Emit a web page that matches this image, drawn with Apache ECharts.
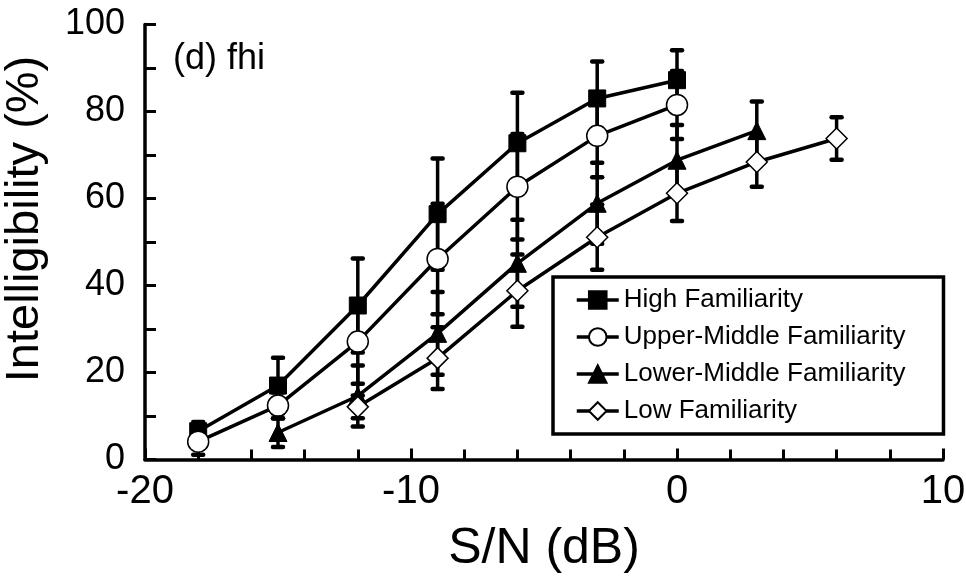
<!DOCTYPE html>
<html>
<head>
<meta charset="utf-8">
<script src="https://cdn.jsdelivr.net/npm/echarts@6/dist/echarts.min.js"></script>
<style>
  html, body { margin: 0; padding: 0; background: #fff; }
  #chart { width: 966px; height: 576px; }
</style>
</head>
<body>
<div id="chart"></div>
<script>
// ---- data ----
const snr = [-18, -15, -12, -9, -6, -3, 0, 3, 6];
const seriesNames = ['High Familiarity', 'Upper-Middle Familiarity', 'Lower-Middle Familiarity', 'Low Familiarity'];

const highX = [-18, -15, -12, -9, -6, -3, 0];
const highMean = [6.5, 17.0, 35.4, 56.4, 72.7, 83.0, 87.2];
const highSD = [2.1, 6.4, 10.8, 12.8, 11.6, 8.5, 6.9];

const upperMidX = [-18, -15, -12, -9, -6, -3, 0];
const upperMidMean = [4.1, 12.4, 27.1, 46.1, 62.7, 74.4, 81.5];
const upperMidSD = [3.0, 3.0, 9.7, 12.7, 12.1, 9.5, 7.8];

const lowerMidX = [-15, -12, -9, -6, -3, 0, 3];
const lowerMidMean = [6.2, 14.6, 29.0, 45.1, 58.9, 68.8, 75.6];
const lowerMidSD = [3.3, 7.0, 9.5, 10.0, 9.3, 8.1, 6.7];

const lowX = [-12, -9, -6, -3, 0, 3, 6];
const lowMean = [12.1, 23.3, 38.8, 51.1, 61.2, 68.4, 73.8];
const lowSD = [2.6, 7.1, 8.3, 7.5, 6.4, 5.7, 4.9];

const xTicks = [-20, -10, 0, 10];
const yTicks = [0, 20, 40, 60, 80, 100];
const panelLabel = '(d) fhi';
const xTitle = 'S/N (dB)';
const yTitle = 'Intelligibility (%)';

// ---- chart ----
const FONT = '"Liberation Sans", Arial, Helvetica, sans-serif';
const chart = echarts.init(document.getElementById('chart'), null, { renderer: 'canvas' });

function pairs(xs, ys) { return xs.map((x, i) => [x, ys[i]]); }
function triples(xs, ys, ss) { return xs.map((x, i) => [x, ys[i], ss[i]]); }

function errorRender(params, api) {
  const x = api.value(0), m = api.value(1), s = api.value(2);
  const top = api.coord([x, m + s]);
  const bot = api.coord([x, m - s]);
  const hw = 5;
  const st = { stroke: '#000', lineWidth: 3.5 };
  const cap = { stroke: '#000', lineWidth: 4.5, lineCap: 'round' };
  return {
    type: 'group',
    children: [
      { type: 'line', shape: { x1: top[0], y1: top[1], x2: bot[0], y2: bot[1] }, style: st },
      { type: 'line', shape: { x1: top[0] - hw, y1: top[1], x2: top[0] + hw, y2: top[1] }, style: cap },
      { type: 'line', shape: { x1: bot[0] - hw, y1: bot[1], x2: bot[0] + hw, y2: bot[1] }, style: cap }
    ]
  };
}

function errSeries(name, data) {
  return {
    name: name + ' SD', type: 'custom', renderItem: errorRender, data: data,
    encode: { x: 0, y: 1 }, z: 1, silent: true
  };
}

function lineSeries(name, data, symbol, size, filled) {
  return {
    name: name, type: 'line', data: data, symbol: symbol, symbolSize: size,
    z: 3,
    lineStyle: { color: '#000', width: 3.5 },
    itemStyle: filled ? { color: '#000', borderColor: '#000', borderWidth: 1 }
                      : { color: '#fff', borderColor: '#000', borderWidth: 1.5 },
    emphasis: { disabled: true }
  };
}

const option = {
  animation: false,
  backgroundColor: '#fff',
  textStyle: { fontFamily: FONT, color: '#000' },
  grid: { left: 145, right: 23, top: 24.5, bottom: 116.5, containLabel: false, outerBoundsMode: 'none' },
  legend: {
    data: seriesNames,
    orient: 'vertical',
    left: 553, top: 277,
    itemWidth: 42, itemGap: 11, itemHeight: 22,
    padding: [10, 38, 10, 22],
    borderColor: '#000', borderWidth: 3.5,
    backgroundColor: '#fff',
    lineStyle: { width: 3.5, color: '#000' },
    textStyle: { fontSize: 26, fontFamily: FONT, color: '#000', lineHeight: 26 },
    selectedMode: false
  },
  xAxis: {
    type: 'value', min: xTicks[0], max: xTicks[xTicks.length - 1], interval: 10,
    name: xTitle, nameLocation: 'middle', nameGap: 65,
    nameTextStyle: { fontSize: 50, fontFamily: FONT, color: '#000' },
    axisLine: { show: true, onZero: false, lineStyle: { color: '#000', width: 3.5 } },
    axisTick: { show: true, inside: true, length: 11, lineStyle: { color: '#000', width: 3 } },
    minorTick: { show: true, splitNumber: 5, length: 10, lineStyle: { color: '#000', width: 3 } },
    axisLabel: { fontSize: 40, margin: 12, color: '#000', fontFamily: FONT },
    splitLine: { show: false }, minorSplitLine: { show: false }
  },
  yAxis: {
    type: 'value', min: yTicks[0], max: yTicks[yTicks.length - 1], interval: 20,
    name: yTitle, nameLocation: 'middle', nameGap: 96,
    nameTextStyle: { fontSize: 47, fontFamily: FONT, color: '#000', padding: [0, 0, 0, 46] },
    axisLine: { show: true, onZero: false, lineStyle: { color: '#000', width: 3.5 } },
    axisTick: { show: true, inside: true, length: 11, lineStyle: { color: '#000', width: 3 } },
    minorTick: { show: true, splitNumber: 2, length: 11, lineStyle: { color: '#000', width: 3 } },
    axisLabel: { fontSize: 36, margin: 20, color: '#000', fontFamily: FONT },
    splitLine: { show: false }, minorSplitLine: { show: false }
  },
  graphic: [{
    type: 'text', left: 173, top: 41,
    style: { text: panelLabel, fontSize: 36, fontFamily: FONT, fill: '#000' }
  }],
  series: [
    errSeries(seriesNames[0], triples(highX, highMean, highSD)),
    errSeries(seriesNames[1], triples(upperMidX, upperMidMean, upperMidSD)),
    errSeries(seriesNames[2], triples(lowerMidX, lowerMidMean, lowerMidSD)),
    errSeries(seriesNames[3], triples(lowX, lowMean, lowSD)),
    lineSeries(seriesNames[0], pairs(highX, highMean), 'rect', 17, true),
    lineSeries(seriesNames[1], pairs(upperMidX, upperMidMean), 'circle', 21, false),
    lineSeries(seriesNames[2], pairs(lowerMidX, lowerMidMean), 'triangle', 18, true),
    lineSeries(seriesNames[3], pairs(lowX, lowMean), 'diamond', 21, false)
  ]
};
chart.setOption(option);
</script>
</body>
</html>
